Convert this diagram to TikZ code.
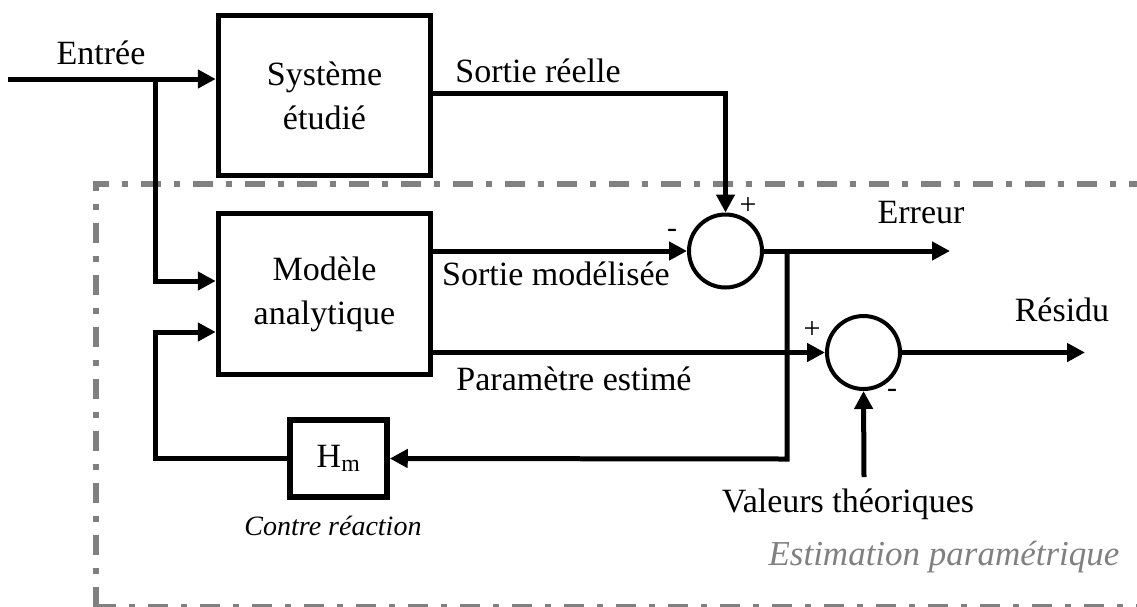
\documentclass[tikz,border=0pt]{standalone}
\usepackage{fontspec}
\setmainfont{Liberation Serif}
\usetikzlibrary{arrows.meta}
\definecolor{dgray}{RGB}{128,128,128}
\begin{document}
\begin{tikzpicture}[x=1pt,y=-1pt,
  conn/.style={line width=5pt},
  arr/.style={conn,-{Triangle[length=18pt,width=18pt]}},
  blk/.style={draw,line width=5.5pt,align=center,inner sep=0pt,
    font=\fontsize{34}{44}\selectfont},
  sumnode/.style={draw,circle,line width=4pt,minimum size=73pt,inner sep=0pt},
  lbl/.style={anchor=base,inner sep=0pt,font=\fontsize{34}{40}\selectfont},
  sgn/.style={inner sep=0pt,font=\fontsize{30}{34}\selectfont},
  dbox/.style={draw=dgray,line width=6pt,dash pattern=on 20pt off 13pt on 6pt off 13pt}]
\useasboundingbox (0,0) rectangle (1137,606);
\clip (0,0) rectangle (1137,606);

% dashed-dotted frame
\draw[dbox] (96,607) -- (96,184) -- (1160,184);
\draw[dbox] (96,607) -- (1160,607);

% blocks
\node[blk,minimum width=212pt,minimum height=160pt] (sys) at (324.5,95.5) {Système\\étudié};
\node[blk,minimum width=212pt,minimum height=161pt] (mod) at (324.5,294) {Modèle\\analytique};
\node[blk,minimum width=97pt,minimum height=77pt] (hm) at (338.5,458.5) {H\textsubscript{m}};
\node[sumnode] (c1) at (725.5,251) {};
\node[sumnode] (c2) at (863.5,352.5) {};

% coordinates
\coordinate (in) at (8,79);
\coordinate (br) at (155,79);
\coordinate (brm) at (155,281);
\coordinate (fb) at (155,332);
\coordinate (j) at (787,251);
\coordinate (jb) at (787,459);
\coordinate (eo) at (950,251);
\coordinate (ro) at (1085,352.5);
\coordinate (vt) at (864,477);
\coordinate (sr) at (431,93);

% connectors
\draw[arr] (in) -- (in -| sys.west);
\draw[arr] (br) -- (brm) -- (brm -| mod.west);
\draw[arr] (sys.east |- sr) -| (c1.north);
\draw[arr] (mod.east |- c1.west) -- (c1.west);
\draw[arr] (c1.east) -- (eo);
\draw[arr] (j) -- (jb) -- (hm.east);
\draw[arr] (hm.west) -| (fb) -- (fb -| mod.west);
\draw[arr] (mod.east |- c2.west) -- (c2.west);
\draw[arr] (c2.east) -- (ro);
\draw[arr] (vt) -- (c2.south);

% labels
\node[lbl] (tEntree) at (101,64) {Entrée};
\node[lbl] (tSR) at (538,82) {Sortie réelle};
\node[lbl] (tSM) at (556,285) {Sortie modélisée};
\node[lbl] (tPE) at (574,390) {Paramètre estimé};
\node[lbl] (tErr) at (921,223) {Erreur};
\node[lbl] (tRes) at (1062,321) {Résidu};
\node[lbl] (tVT) at (848,512) {Valeurs théoriques};
\node[lbl,font=\fontsize{28}{32}\selectfont\itshape] (tCR) at (333,535) {Contre réaction};
\node[lbl,text=dgray,font=\fontsize{35}{40}\selectfont\itshape] (tEst) at (944,565) {Estimation paramétrique};

\node[sgn] (p1) at (748,206) {+};
\node[sgn] (m1) at (672,233) {-};
\node[sgn] (p2) at (812,330) {+};
\node[sgn] (m2) at (892,393) {-};
\end{tikzpicture}
\end{document}
